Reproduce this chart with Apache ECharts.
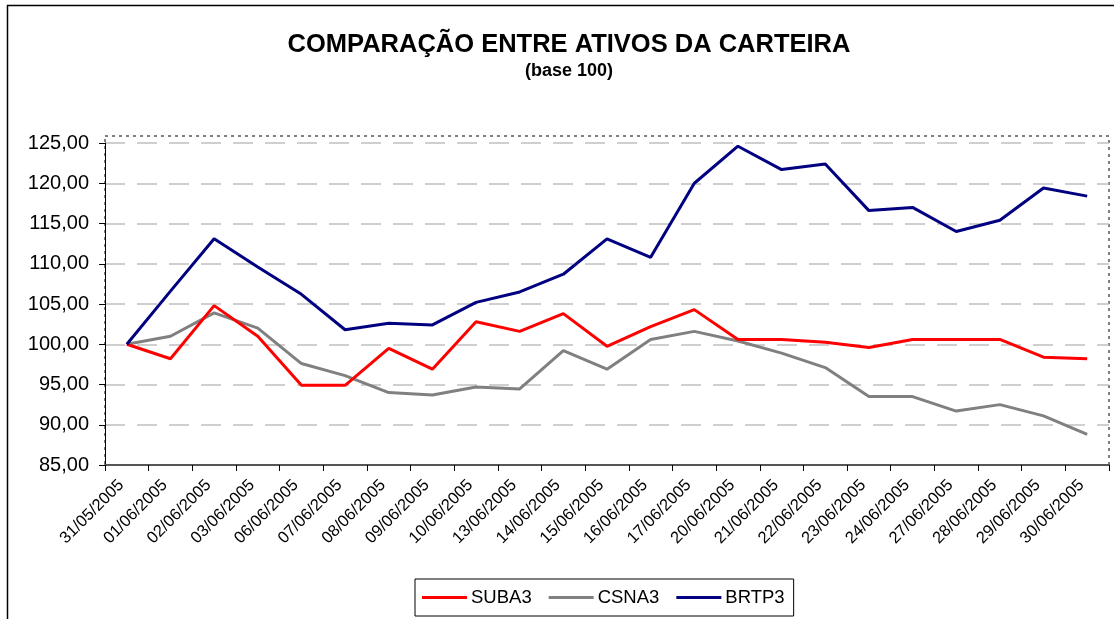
<!DOCTYPE html>
<html>
<head>
<meta charset="utf-8">
<script src="https://cdn.jsdelivr.net/npm/echarts@6/dist/echarts.min.js"></script>
<style>
  html, body { margin: 0; padding: 0; background: #fff; }
  #chart { width: 1114px; height: 619px; }
</style>
</head>
<body>
<div id="chart"></div>
<script>
// categorias (datas)
const datas = ['31/05/2005', '01/06/2005', '02/06/2005', '03/06/2005', '06/06/2005', '07/06/2005',
  '08/06/2005', '09/06/2005', '10/06/2005', '13/06/2005', '14/06/2005', '15/06/2005', '16/06/2005',
  '17/06/2005', '20/06/2005', '21/06/2005', '22/06/2005', '23/06/2005', '24/06/2005', '27/06/2005',
  '28/06/2005', '29/06/2005', '30/06/2005']

// séries (base 100)
const suba3 = [100, 98.2, 104.8, 101.0, 94.9, 94.9, 99.5, 96.9, 102.8, 101.6, 103.8, 99.75,
  102.2, 104.3, 100.6, 100.6, 100.25, 99.6, 100.6, 100.6, 100.6, 98.4, 98.2]
const csna3 = [100, 101.0, 103.9, 102.0, 97.6, 96.1, 94.0, 93.7, 94.7, 94.45, 99.2, 96.9,
  100.6, 101.6, 100.4, 98.9, 97.1, 93.5, 93.5, 91.7, 92.5, 91.1, 88.8]
const brtp3 = [100, 106.6, 113.1, 109.6, 106.2, 101.8, 102.6, 102.4, 105.2, 106.5, 108.7, 113.1,
  110.8, 120.0, 124.6, 121.7, 122.4, 116.6, 117.0, 114.0, 115.4, 119.4, 118.4]

const FONT = '"Liberation Sans", Arial, sans-serif'

const chart = echarts.init(document.getElementById('chart'))

const option = {
  animation: false,
  textStyle: { fontFamily: FONT, color: '#000' },
  title: {
    text: 'COMPARAÇÃO ENTRE ATIVOS DA CARTEIRA',
    subtext: '(base 100)',
    left: 564,
    top: 27,
    textAlign: 'center',
    itemGap: 4,
    textStyle: { fontFamily: FONT, fontSize: 25.5, fontWeight: 'bold', color: '#000' },
    subtextStyle: { fontFamily: FONT, fontSize: 18, fontWeight: 'bold', color: '#000' }
  },
  legend: {
    left: 415,
    top: 579,
    padding: [9, 9, 9, 7],
    itemGap: 17,
    itemWidth: 45,
    itemHeight: 3,
    icon: 'rect',
    borderColor: '#000',
    borderWidth: 1,
    textStyle: { fontFamily: FONT, fontSize: 18.5, color: '#000', padding: [0, 0, 0, -1] },
    data: ['SUBA3', 'CSNA3', 'BRTP3']
  },
  grid: {
    left: 105,
    top: 143,
    right: 5,
    bottom: 154,
    containLabel: false
  },
  xAxis: {
    type: 'category',
    data: datas,
    boundaryGap: true,
    axisLine: { lineStyle: { color: '#555', width: 2 } },
    axisTick: { show: true, interval: 0, length: 6, inside: false, lineStyle: { color: '#000' } },
    axisLabel: {
      interval: 0,
      rotate: 45,
      fontSize: 16.5,
      color: '#000',
      fontFamily: FONT,
      margin: 12,
      padding: [0, 8, 0, 0]
    }
  },
  yAxis: {
    type: 'value',
    min: 85,
    max: 125,
    interval: 5,
    axisLine: { show: true, lineStyle: { color: '#000', width: 1 } },
    axisTick: { show: true, length: 6, lineStyle: { color: '#000' } },
    axisLabel: {
      fontSize: 20,
      color: '#000',
      fontFamily: FONT,
      margin: 16,
      formatter: v => v.toFixed(2).replace('.', ',')
    },
    splitLine: {
      show: true,
      lineStyle: { color: '#c0c0c0', width: 1.5, type: [20, 12] }
    }
  },
  graphic: [
    // moldura do gráfico
    {
      type: 'rect',
      shape: { x: 7.5, y: 5.5, width: 1200, height: 700 },
      style: { fill: 'none', stroke: '#000', lineWidth: 1.5 },
      silent: true,
      z: -1
    },
    // área de plotagem
    {
      type: 'rect',
      shape: { x: 105, y: 136, width: 1004, height: 329 },
      style: { fill: 'none', stroke: '#808080', lineWidth: 2, lineDash: [3, 4] },
      silent: true,
      z: -1
    }
  ],
  series: [
    {
      name: 'SUBA3',
      type: 'line',
      data: suba3,
      symbol: 'none',
      lineStyle: { color: '#ff0000', width: 3 },
      itemStyle: { color: '#ff0000' },
      z: 3
    },
    {
      name: 'CSNA3',
      type: 'line',
      data: csna3,
      symbol: 'none',
      lineStyle: { color: '#808080', width: 3 },
      itemStyle: { color: '#808080' },
      z: 2
    },
    {
      name: 'BRTP3',
      type: 'line',
      data: brtp3,
      symbol: 'none',
      lineStyle: { color: '#000080', width: 3 },
      itemStyle: { color: '#000080' },
      z: 4
    }
  ]
}

chart.setOption(option)
window.addEventListener('resize', () => chart.resize())
</script>
</body>
</html>
